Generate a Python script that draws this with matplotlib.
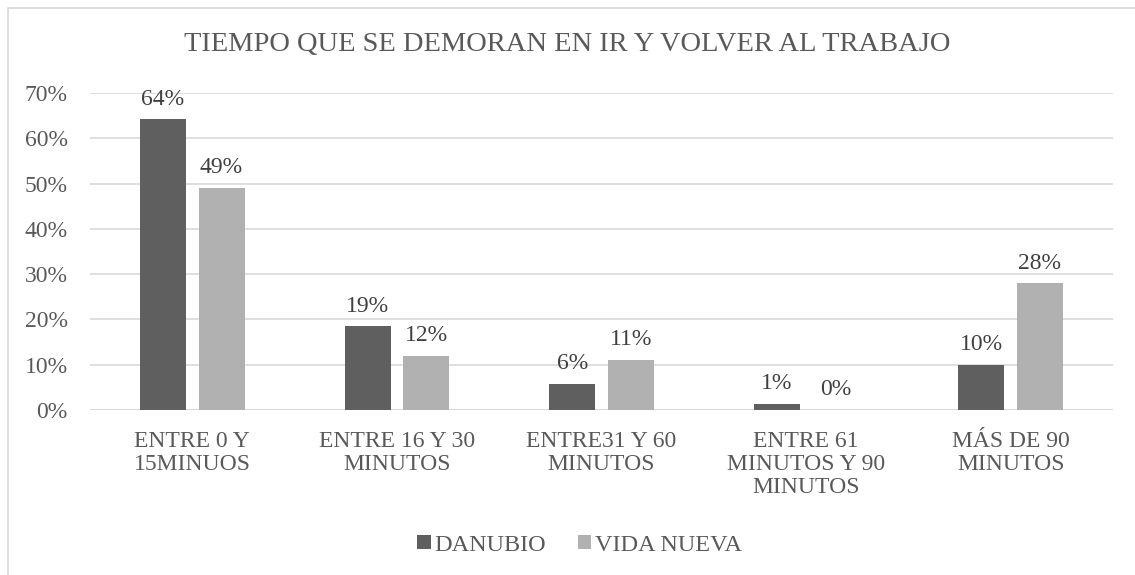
import numpy as np
import matplotlib.pyplot as plt
from matplotlib.patches import Rectangle

categories = ['ENTRE 0 Y\n15MINUOS', 'ENTRE 16 Y 30\nMINUTOS', 'ENTRE31 Y 60\nMINUTOS',
              'ENTRE 61\nMINUTOS Y 90\nMINUTOS', 'MÁS DE 90\nMINUTOS']
danubio = [64.2, 18.5, 5.7, 1.4, 10.0]
vida_nueva = [49.0, 12.0, 11.0, 0.0, 28.0]
danubio_labels = ['64%', '19%', '6%', '1%', '10%']
vida_labels = ['49%', '12%', '11%', '0%', '28%']
yticks = [0, 10, 20, 30, 40, 50, 60, 70]


def main():
    plt.rcParams['font.family'] = ['Liberation Serif', 'DejaVu Serif']
    txt = '#595959'
    fs = 17

    fig = plt.figure(figsize=(11.35, 5.75), dpi=100)
    ax = fig.add_axes([0.0793, 0.287, 0.9013, 0.551])

    x = np.arange(len(categories))
    w = 0.225
    off = 0.143
    b1 = ax.bar(x - off, danubio, w, color='#5f5f5f', label='DANUBIO', zorder=3)
    b2 = ax.bar(x + off, vida_nueva, w, color='#b1b1b1', label='VIDA NUEVA', zorder=3)

    for bars, labels in ((b1, danubio_labels), (b2, vida_labels)):
        for rect, lab in zip(bars, labels):
            ax.annotate(lab, (rect.get_x() + rect.get_width() / 2, rect.get_height()),
                        xytext=(0, 7), textcoords='offset points', ha='center', va='bottom',
                        fontsize=fs, color='#404040')

    ax.set_xlim(-0.5, len(categories) - 0.5)
    ax.set_ylim(0, 70)
    ax.set_yticks(yticks)
    ax.set_yticklabels([f'{t}%' for t in yticks])
    ax.set_xticks(x)
    ax.set_xticklabels(categories, linespacing=1.12, fontsize=17.5)
    ax.tick_params(axis='both', length=0, labelsize=fs, colors=txt)
    ax.tick_params(axis='y', pad=16)
    ax.tick_params(axis='x', pad=15)
    ax.yaxis.grid(True, color='#d9d9d9', linewidth=1.2, zorder=0)
    for s in ax.spines.values():
        s.set_visible(False)
    ax.axhline(0, color='#d9d9d9', linewidth=1.2, zorder=2)

    fig.text(0.5, 0.922, 'TIEMPO QUE SE DEMORAN EN IR Y VOLVER AL TRABAJO',
             ha='center', va='center', fontsize=20.5, color=txt)

    fig.legend(loc='center', bbox_to_anchor=(0.5106, 0.052), ncol=2, frameon=False,
               fontsize=17.5, labelcolor=txt, handlelength=0.55, handleheight=0.55,
               handletextpad=0.15, columnspacing=1.3)

    fig.patches.append(Rectangle((8 / 1135, -0.1), 1.2, 1 - 8 / 575 + 0.1,
                                 transform=fig.transFigure, fill=False,
                                 edgecolor='#d9d9d9', linewidth=1.2))

    fig.savefig('out.png', dpi=100)


if __name__ == '__main__':
    main()
